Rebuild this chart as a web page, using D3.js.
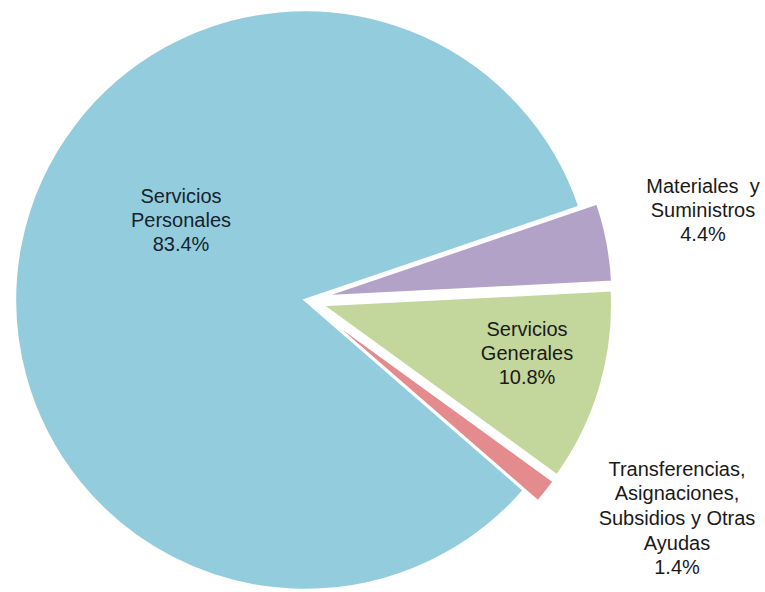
<!DOCTYPE html>
<html>
<head>
<meta charset="utf-8">
<script src="https://cdn.jsdelivr.net/npm/d3@7"></script>
<style>
  html, body { margin: 0; padding: 0; background: #ffffff; }
  svg { display: block; }
</style>
</head>
<body>
<svg id="chart" width="765" height="592"></svg>
<script>
// ---- data ----
const categories = [
  "Servicios Personales",
  "Materiales y Suministros",
  "Servicios Generales",
  "Transferencias, Asignaciones, Subsidios y Otras Ayudas"
];
const values = [83.4, 4.4, 10.8, 1.4];
const labelLines = [
  ["Servicios", "Personales"],
  ["Materiales\u00A0 y", "Suministros"],
  ["Servicios", "Generales"],
  ["Transferencias,", "Asignaciones,", "Subsidios y Otras", "Ayudas"]
];
const percentLabels = ["83.4%", "4.4%", "10.8%", "1.4%"];

// ---- layout / style ----
const colors = ["#93CDDD", "#B3A2C7", "#C3D69B", "#E38B8D"];
const explode = [0, 18, 18, 18];
const cx = 305, cy = 300, R = 290;
const startDeg = 131;
// label anchor positions relative to pie center (text block centre)
const labelOffsets = [[-124, -80], [398, -90], [222, 53], [372, 218]];
const lineH = [24, 24, 24, 24.7];

const svg = d3.select("#chart");
const g = svg.append("g").attr("transform", `translate(${cx},${cy})`);

const pie = d3.pie().sort(null)
  .startAngle(startDeg * Math.PI / 180)
  .endAngle(startDeg * Math.PI / 180 + 2 * Math.PI);
const arcs = pie(values);
const arc = d3.arc().innerRadius(0).outerRadius(R);

g.selectAll("path.slice")
  .data(arcs)
  .join("path")
  .attr("class", "slice")
  .attr("d", arc)
  .attr("fill", (d, i) => colors[i])
  .attr("stroke", "#ffffff")
  .attr("stroke-width", 2.5)
  .attr("stroke-linejoin", "miter")
  .attr("transform", (d, i) => {
    const a = (d.startAngle + d.endAngle) / 2;
    return `translate(${Math.sin(a) * explode[i]},${-Math.cos(a) * explode[i]})`;
  });

const labels = g.selectAll("text.lbl")
  .data(arcs)
  .join("text")
  .attr("class", "lbl")
  .attr("text-anchor", "middle")
  .attr("font-family", "Liberation Sans, Arial, sans-serif")
  .attr("font-size", 20)
  .attr("fill", (d, i) => i === 0 ? "#16222e" : "#1a1a1a");

labels.each(function (d, i) {
  const lines = labelLines[i].concat([percentLabels[i]]);
  const n = lines.length;
  const [ox, oy] = labelOffsets[i];
  const t = d3.select(this);
  lines.forEach((ln, k) => {
    t.append("tspan")
      .attr("x", ox)
      .attr("y", oy + (k - (n - 1) / 2) * lineH[i])
      .attr("dy", "0.35em")
      .text(ln);
  });
});
</script>
</body>
</html>
